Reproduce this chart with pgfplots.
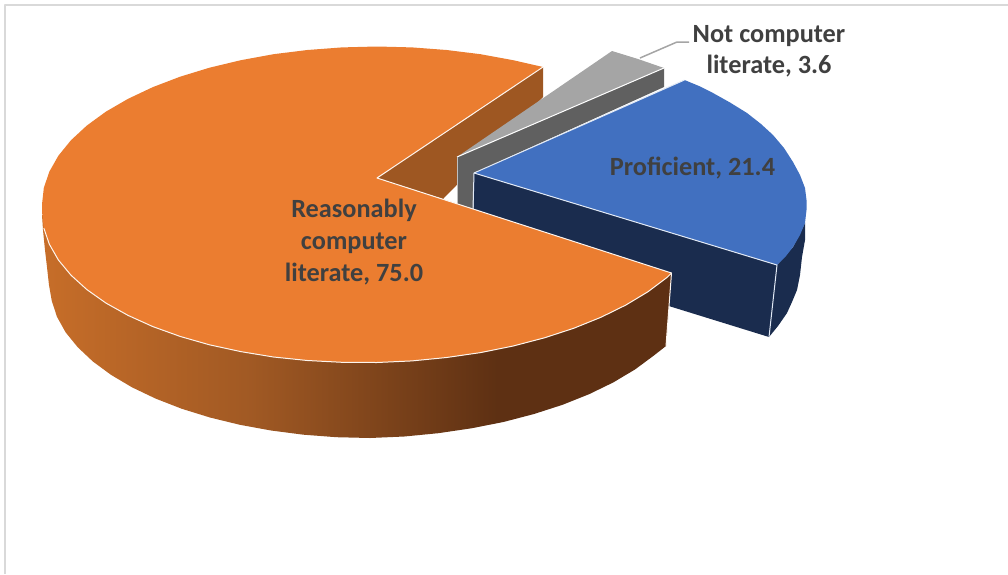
\documentclass[border=0pt]{standalone}
\usepackage{fontspec}
\setmainfont{Carlito}
\usepackage{pgfplots}
\pgfplotsset{compat=1.18}

\definecolor{pieOrange}{HTML}{EB7D30}
\definecolor{pieBrown}{HTML}{9E5722}
\definecolor{pieBlue}{HTML}{4170C0}
\definecolor{pieNavy}{HTML}{1A2C4E}
\definecolor{pieGrey}{HTML}{A5A5A5}
\definecolor{pieGreyDark}{HTML}{606060}
\definecolor{labelText}{HTML}{404040}
\definecolor{frameGrey}{HTML}{D9D9D9}

% Rim of the large slice: lit on the left, dark towards the right
\pgfdeclarehorizontalshading{orangerim}{100bp}{%
  rgb(0bp)=(0.78,0.43,0.16);
  rgb(25bp)=(0.78,0.43,0.16);
  rgb(41.6bp)=(0.63,0.35,0.14);
  rgb(61bp)=(0.37,0.19,0.075);
  rgb(75bp)=(0.37,0.19,0.075);
  rgb(100bp)=(0.37,0.19,0.075)}

\begin{document}
\begin{tikzpicture}
\begin{axis}[
  scale only axis, width=1008pt, height=574pt,
  xmin=0, xmax=1008, ymin=0, ymax=574,
  y dir=reverse, hide axis,
  every axis plot/.append style={line join=round},
]
\addplot[draw=none, forget plot] coordinates {(0,0)(1008,574)};

% chart frame, top and left only
\addplot[frameGrey, line width=2pt] coordinates {(5,574)(5,5)(1008,5)};

% inner wall of the large slice sits behind the small slice
\addplot[fill=pieBrown, draw=none] coordinates {(377,178)(543,67)(543,97)(443,199)} -- cycle;

% leader line of the small slice
\addplot[pieGrey, line width=1.5pt] coordinates {(640,58)(677,42)(689,42)};

% small slice
\addplot[fill=pieGreyDark, draw=none] coordinates {(457,157)(664,68)(664,87)(474,173)(473,209)(457,204)} -- cycle;
\addplot[fill=pieGrey, draw=none] coordinates {(457,157)(612,51)(638,59)(664,68)} -- cycle;
\addplot[white, line width=1pt] coordinates {(457,157)(664,68)};
\addplot[white!60!pieGreyDark, line width=0.8pt] coordinates {(457,157)(457,204)};

% exploded slice: front wall, outer rim, top
\addplot[fill=pieNavy, draw=none] coordinates {(474,173)(777,265)(769,337)(672,307)(473,240)} -- cycle;
\addplot[fill=pieNavy, draw=none] coordinates {(777,265)(793,247)(805,223)(805,240)(802,257)(800,275)(797,290)(792,302)(787,313)(778,326)(769,337)} -- cycle;
\addplot[fill=pieBlue, draw=none] coordinates {(474,173)(684.5,80)(699,86)(713,93)(730,102.5)(747,113)(761,124)(773,135)(784,148)(793,162)(800,175)(805,188)(806.5,200)(806.5,210)(805,223)(800,235)(793,247)(786,256)(777,265)} -- cycle;
\addplot[white!85!pieBlue, line width=1pt] coordinates {(473,209)(474,173)(684.5,80)};
\addplot[white!85!pieBlue, line width=1pt] coordinates {(474,173)(777,265)(769,337)};

% large slice: rim, top
\addplot[shade, shading=orangerim, shading angle=0, draw=none] coordinates {
  (42,215)(671.5,273)(666,346)(654,355.4)(635.4,369.2)(613.7,382.2)(589.5,394)(562.8,404.7)
  (534,414)(503.4,422)(471.4,428.3)(438.2,433.2)(404.3,436.5)(370,438)(336.6,437.2)
  (303.5,434.7)(271.1,430.5)(239.9,424.8)(210,417.5)(181.9,408.8)(155.9,398.7)(132.2,387.4)
  (111.1,374.9)(92.9,361.5)(77.7,347.2)(65.6,332.3)(57,316.8)(51.8,301)(49,285)(47,267)
  (45,250)(43,230)} -- cycle;
\addplot[fill=pieOrange, draw=none] coordinates {
  (377,178)(543,67)(513.2,60.2)(480.5,54.2)(446.6,50)(412,47.4)(377,46.5)(342,47.4)
  (307.4,50)(273.5,54.2)(240.8,60.2)(209.5,67.7)(180.1,76.7)(152.9,87.1)(128.1,98.8)
  (106,111.6)(86.9,125.5)(71,140.2)(58.4,155.7)(49.3,171.7)(43.8,188)(42,204.5)(42,211.5)
  (43.8,228)(49.3,244.1)(58.4,260)(71,275.2)(86.9,289.6)(106,303.1)(128.1,315.4)
  (152.9,326.6)(180.1,336.4)(209.5,344.8)(240.8,351.6)(273.5,357)(307.4,360.5)(342,362.3)
  (377,362.5)(412,360.9)(446.6,357.5)(480.5,352.6)(513.2,346)(544.5,337.8)(573.9,328.2)
  (601.1,317.2)(625.9,305)(648,291.7)(667.1,277.4)(671.5,273)} -- cycle;
\addplot[white!92!pieOrange, line width=1pt] coordinates {(543,67)(377,178)(671.5,273)};
\addplot[white!92!pieOrange, line width=1pt] coordinates {
  (43.8,228)(49.3,244.1)(58.4,260)(71,275.2)(86.9,289.6)(106,303.1)(128.1,315.4)
  (152.9,326.6)(180.1,336.4)(209.5,344.8)(240.8,351.6)(273.5,357)(307.4,360.5)(342,362.3)
  (377,362.5)(412,360.9)(446.6,357.5)(480.5,352.6)(513.2,346)(544.5,337.8)(573.9,328.2)
  (601.1,317.2)(625.9,305)(648,291.7)(667.1,277.4)(671.5,273)(666,346)};

% data labels
\begin{scope}[every node/.style={anchor=base, text=labelText, font=\fontsize{26.3}{26.3}\selectfont\bfseries, inner sep=0pt}]
\node at (axis cs:354,217) {Reasonably};
\node at (axis cs:354,249) {computer};
\node at (axis cs:354,281) {literate, 75.0};
\node at (axis cs:692.5,175) {Proficient, 21.4};
\node at (axis cs:769,42) {Not computer};
\node at (axis cs:769,73) {literate, 3.6};
\end{scope}
\end{axis}
\end{tikzpicture}
\end{document}
